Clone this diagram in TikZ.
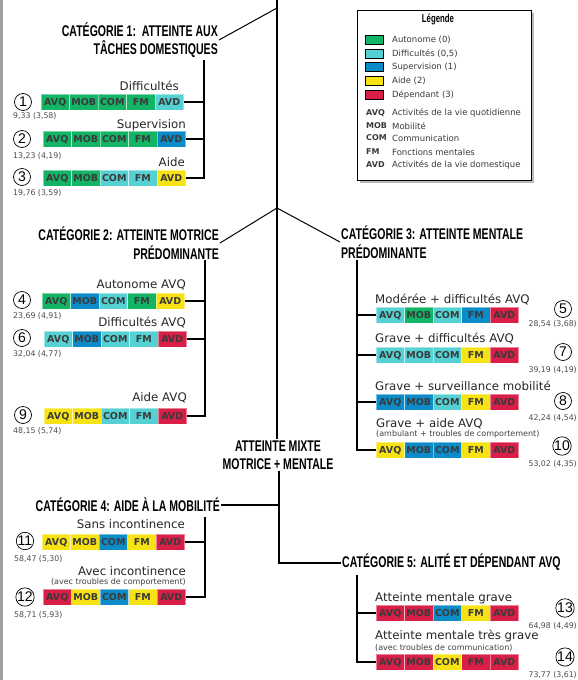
\documentclass[tikz,border=0pt]{standalone}
\usepackage{fontspec}
\setmainfont{DejaVu Sans}
\newfontfamily\titrefont[FakeStretch=0.68]{Liberation Sans Bold}
\newfontfamily\chiffrefont{Liberation Sans}
\usepackage{tikz}
\usetikzlibrary{positioning}
\definecolor{autonome}{HTML}{12B466}
\definecolor{difficulte}{HTML}{55D0D3}
\definecolor{supervision}{HTML}{0B8CC8}
\definecolor{aide}{HTML}{F7E314}
\definecolor{dependant}{HTML}{D91E47}
\definecolor{encre}{HTML}{3A3A3A}
\tikzset{
  % --- profile bars ----------------------------------------------------------
  cell/.style={rectangle,minimum width=28.5pt,minimum height=16pt,inner sep=0pt,
               outer sep=0pt,draw=white,draw opacity=0.45,line width=0.4pt,
               text height=7pt,text depth=0pt,
               font=\fontsize{9.5}{10}\selectfont\bfseries,text=encre},
  % --- texts -----------------------------------------------------------------
  lab/.style={font=\fontsize{11.8}{13}\selectfont,text=black!85,inner sep=0pt},
  sublab/.style={font=\fontsize{8}{9}\selectfont,text=black!75,inner sep=0pt},
  score/.style={font=\fontsize{7.8}{9}\selectfont,text=black!70,inner sep=0pt},
  rond/.style={circle,draw,line width=0.7pt,minimum size=17pt,inner sep=0pt,
               font=\chiffrefont\fontsize{14}{14}\selectfont},
  cat/.style={font=\titrefont\fontsize{15.5}{18.5}\selectfont,inner sep=1pt},
  % --- tree ------------------------------------------------------------------
  tronc/.style={line width=1.3pt},
  diag/.style={line width=1pt},
  lien/.style={line width=1.3pt},
  % --- legend ----------------------------------------------------------------
  swatch/.style={rectangle,draw=black,line width=0.6pt,minimum width=18pt,
                 minimum height=8.5pt,inner sep=0pt,anchor=west},
  legtxt/.style={font=\fontsize{8.5}{10}\selectfont,text=encre,anchor=west,
                 inner sep=0pt},
  legabr/.style={legtxt,font=\fontsize{8}{10}\selectfont\bfseries},
}
% one bar of five cells: name, west point, colours of AVQ MOB COM FM AVD
\newcommand{\profil}[7]{%
  \node[cell,fill=#3,anchor=west] (#1-avq) at (#2) {AVQ};
  \node[cell,fill=#4,right=0pt of #1-avq] (#1-mob) {MOB};
  \node[cell,fill=#5,right=0pt of #1-mob] (#1-com) {COM};
  \node[cell,fill=#6,right=0pt of #1-com] (#1-fm) {FM};
  \node[cell,fill=#7,right=0pt of #1-fm] (#1-avd) {AVD};
}

\begin{document}
\begin{tikzpicture}[x=1pt, y=-1pt]
  \useasboundingbox (0,0) rectangle (578,680);
  \fill[gray!75] (0,0) rectangle (3,680);

  % categories
  \node[cat,align=right,anchor=east] (cat1) at (219,40) {CATÉGORIE 1:~~ATTEINTE AUX\\TÂCHES DOMESTIQUES};
  \node[cat,align=right,anchor=east] (cat2) at (220,243) {CATÉGORIE 2: ATTEINTE MOTRICE\\PRÉDOMINANTE};
  \node[cat,align=left,anchor=west]  (cat3) at (340,242) {CATÉGORIE 3: ATTEINTE MENTALE\\PRÉDOMINANTE};
  \node[cat,align=center]            (mixte) at (278,455) {ATTEINTE MIXTE\\MOTRICE + MENTALE};
  \node[cat,anchor=east]             (cat4) at (221,505) {CATÉGORIE 4: AIDE À LA MOBILITÉ};
  \node[cat,anchor=west]             (cat5) at (341,562) {CATÉGORIE 5: ALITÉ ET DÉPENDANT AVQ};

  % trunk
  \coordinate (t0) at (277,0);
  \coordinate (j1) at (277,8);
  \coordinate (j2) at (277,208);
  \coordinate (j4) at (279,505);
  \coordinate (j5) at (279,563);
  \draw[tronc] (t0) -- (t0 |- mixte.north);
  \draw[diag] (j1) -- (cat1.east);
  \draw[diag] (j2) -- (cat2.east);
  \draw[diag] (j2) -- (cat3.west);
  \draw[tronc] (j5 |- mixte.south) -- (j5) -- (j5 -| cat5.west);
  \draw[tronc] (j4) -- (j4 -| cat4.east);

  % bars
  \profil{p1}{41,102}{autonome}{autonome}{autonome}{autonome}{difficulte}
  \profil{p2}{43,139}{autonome}{autonome}{autonome}{autonome}{supervision}
  \profil{p3}{43,178}{autonome}{autonome}{difficulte}{difficulte}{aide}
  \profil{p4}{42,301}{autonome}{supervision}{difficulte}{autonome}{aide}
  \profil{p6}{44,339}{difficulte}{supervision}{difficulte}{difficulte}{dependant}
  \profil{p9}{44,416}{aide}{aide}{difficulte}{difficulte}{dependant}
  \profil{p11}{42,542}{aide}{aide}{supervision}{aide}{dependant}
  \profil{p12}{43,597}{dependant}{aide}{supervision}{aide}{dependant}
  \profil{p5}{376,315}{difficulte}{autonome}{difficulte}{supervision}{dependant}
  \profil{p7}{376,355}{difficulte}{difficulte}{difficulte}{aide}{dependant}
  \profil{p8}{376,402}{supervision}{supervision}{difficulte}{aide}{dependant}
  \profil{p10}{376,450}{aide}{supervision}{supervision}{aide}{dependant}
  \profil{p13}{376,613}{dependant}{dependant}{supervision}{aide}{dependant}
  \profil{p14}{376,662}{dependant}{dependant}{aide}{dependant}{dependant}

  % bar titles
  \node[lab,anchor=base east] (l1) at (179,90) {Difficultés};
  \node[lab,anchor=base east] (l2) at (186,128) {Supervision};
  \node[lab,anchor=base east] (l3) at (185,166) {Aide};
  \node[lab,anchor=base east] (l4) at (186,288) {Autonome AVQ};
  \node[lab,anchor=base east] (l6) at (186,326) {Difficultés AVQ};
  \node[lab,anchor=base east] (l9) at (187,401) {Aide AVQ};
  \node[lab,anchor=base east] (l11) at (185,528) {Sans incontinence};
  \node[lab,anchor=base east] (l12) at (186,575) {Avec incontinence};
  \node[sublab,anchor=base east] (m12) at (186,584) {(avec troubles de comportement)};
  \node[lab,anchor=base west] (l5) at (375,303) {Modérée + difficultés AVQ};
  \node[lab,anchor=base west] (l7) at (375,342) {Grave + difficultés AVQ};
  \node[lab,anchor=base west] (l8) at (375,390) {Grave + surveillance mobilité};
  \node[lab,anchor=base west] (l10) at (376,427) {Grave + aide AVQ};
  \node[sublab,anchor=base west] (m10) at (376,436) {(ambulant + troubles de comportement)};
  \node[lab,anchor=base west] (l13) at (375,601) {Atteinte mentale grave};
  \node[lab,anchor=base west] (l14) at (375,639) {Atteinte mentale très grave};
  \node[sublab,anchor=base west] (m14) at (375,650) {(avec troubles de communication)};

  % ranks
  \node[rond] (n1) at (23,102) {1};
  \node[rond] (n2) at (22,139) {2};
  \node[rond] (n3) at (22,177) {3};
  \node[rond] (n4) at (22,300) {4};
  \node[rond] (n6) at (22,338) {6};
  \node[rond] (n9) at (23,415) {9};
  \node[rond] (n11) at (25,541) {11};
  \node[rond] (n12) at (25,597) {12};
  \node[rond] (n5) at (563,309) {5};
  \node[rond] (n7) at (563,352) {7};
  \node[rond] (n8) at (563,401) {8};
  \node[rond] (n10) at (562,446) {10};
  \node[rond] (n13) at (565,608) {13};
  \node[rond] (n14) at (565,657) {14};

  % scores
  \node[score,anchor=base west] (s1) at (13,118) {9,33 (3,58)};
  \node[score,anchor=base west] (s2) at (13,158) {13,23 (4,19)};
  \node[score,anchor=base west] (s3) at (13,195) {19,76 (3,59)};
  \node[score,anchor=base west] (s4) at (13,318) {23,69 (4,91)};
  \node[score,anchor=base west] (s6) at (13,356) {32,04 (4,77)};
  \node[score,anchor=base west] (s9) at (13,433) {48,15 (5,74)};
  \node[score,anchor=base west] (s11) at (14,561) {58,47 (5,30)};
  \node[score,anchor=base west] (s12) at (14,617) {58,71 (5,93)};
  \node[score,anchor=base east] (s5) at (577,326) {28,54 (3,68)};
  \node[score,anchor=base east] (s7) at (577,372) {39,19 (4,19)};
  \node[score,anchor=base east] (s8) at (577,420) {42,24 (4,54)};
  \node[score,anchor=base east] (s10) at (577,466) {53,02 (4,35)};
  \node[score,anchor=base east] (s13) at (577,628) {64,98 (4,49)};
  \node[score,anchor=base east] (s14) at (577,677) {73,77 (3,61)};

  % brackets
  \coordinate (k1) at (204,60);
  \coordinate (k2) at (205,260);
  \coordinate (k3) at (357,260);
  \coordinate (k4) at (205,517);
  \coordinate (k5) at (357,575);
  \draw[lien] (k1) |- (p3-avd.east);
  \draw[lien] (p1-avd.east) -- (p1-avd.east -| k1);
  \draw[lien] (p2-avd.east) -- (p2-avd.east -| k1);
  \draw[lien] (k2) |- (p9-avd.east);
  \draw[lien] (p4-avd.east) -- (p4-avd.east -| k2);
  \draw[lien] (p6-avd.east) -- (p6-avd.east -| k2);
  \draw[lien] (k3) |- (p10-avq.west);
  \draw[lien] (p5-avq.west) -- (p5-avq.west -| k3);
  \draw[lien] (p7-avq.west) -- (p7-avq.west -| k3);
  \draw[lien] (p8-avq.west) -- (p8-avq.west -| k3);
  \draw[lien] (k4) |- (p12-avd.east);
  \draw[lien] (p11-avd.east) -- (p11-avd.east -| k4);
  \draw[lien] (k5) |- (p14-avq.west);
  \draw[lien] (p13-avq.west) -- (p13-avq.west -| k5);

  % legend
  \fill[gray!55] (360,13) rectangle (534,183);
  \draw[fill=white,line width=0.8pt] (357,10) rectangle (531,180);
  \node[font=\titrefont\fontsize{11.5}{12}\selectfont] (leg) at (438,20) {Légende};
  \node[swatch,fill=autonome] (c0) at (365,40) {};
  \node[swatch,fill=difficulte] (c1) at (365,54) {};
  \node[swatch,fill=supervision] (c2) at (365,67) {};
  \node[swatch,fill=aide] (c3) at (365,81) {};
  \node[swatch,fill=dependant] (c4) at (365,95) {};
  \node[legtxt] (e0) at (392,40) {Autonome (0)};
  \node[legtxt] (e1) at (392,54) {Difficultés (0,5)};
  \node[legtxt] (e2) at (392,67) {Supervision (1)};
  \node[legtxt] (e3) at (392,81) {Aide (2)};
  \node[legtxt] (e4) at (392,95) {Dépendant (3)};
  \node[legabr] (a1) at (366,113) {AVQ};
  \node[legabr] (a2) at (366,126) {MOB};
  \node[legabr] (a3) at (366,138) {COM};
  \node[legabr] (a4) at (366,152) {FM};
  \node[legabr] (a5) at (366,165) {AVD};
  \node[legtxt] (d1) at (392,113) {Activités de la vie quotidienne};
  \node[legtxt] (d2) at (392,126) {Mobilité};
  \node[legtxt] (d3) at (392,138) {Communication};
  \node[legtxt] (d4) at (392,152) {Fonctions mentales};
  \node[legtxt] (d5) at (392,165) {Activités de la vie domestique};
\end{tikzpicture}
\end{document}
